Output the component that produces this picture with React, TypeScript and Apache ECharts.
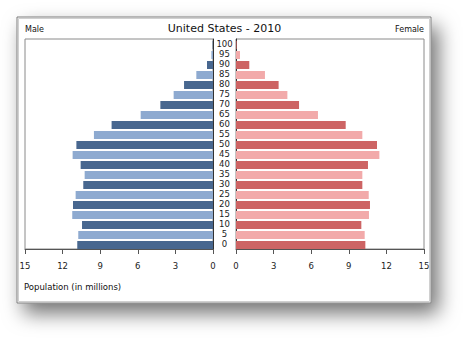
import React, { useEffect, useRef } from "react";
import * as echarts from "echarts";

const ageGroups = ["0", "5", "10", "15", "20", "25", "30", "35", "40", "45", "50", "55", "60", "65", "70", "75", "80", "85", "90", "95", "100"];
const maleValues = [10.83, 10.75, 10.45, 11.23, 11.17, 10.96, 10.35, 10.24, 10.56, 11.2, 10.9, 9.5, 8.09, 5.77, 4.2, 3.14, 2.31, 1.33, 0.48, 0.13, 0.03];
const femaleValues = [10.32, 10.27, 10.0, 10.61, 10.69, 10.59, 10.08, 10.08, 10.53, 11.44, 11.25, 10.08, 8.75, 6.54, 5.03, 4.1, 3.4, 2.31, 1.06, 0.32, 0.05];
const spacerValues = ageGroups.map(() => 0);
const axisTicks = [0, 3, 6, 9, 12, 15];

const FONT = "DejaVu Sans";
const maleDark = "#48678f";
const maleLight = "#8eaad0";
const femaleDark = "#cd6464";
const femaleLight = "#f2aaaa";

export default function App() {
  const ref = useRef<HTMLDivElement>(null);
  useEffect(() => {
    if (!ref.current) return;
    const chart = echarts.init(ref.current, undefined, { renderer: "svg" });
    const xMax = axisTicks[axisTicks.length - 1];
    const xAxisCommon = {
      type: "value" as const,
      min: 0,
      max: xMax,
      interval: 3,
      splitLine: { show: false },
      axisLine: { show: true, lineStyle: { color: "#555", width: 1 } },
      axisTick: { show: true, length: 5, lineStyle: { color: "#555" } },
      axisLabel: { fontFamily: FONT, fontSize: 8.5, color: "#222", margin: 12 },
    };
    const spacer = (xi: number) => ({
      type: "bar" as const,
      xAxisIndex: xi,
      yAxisIndex: xi,
      barWidth: 2,
      barGap: 0,
      silent: true,
      itemStyle: { color: "transparent" },
      data: spacerValues,
    });
    chart.setOption({
      animation: false,
      backgroundColor: "#ffffff",
      graphic: [
        {
          type: "rect",
          z: -10,
          shape: { x: 17, y: 17, width: 414, height: 286 },
          style: {
            fill: "#fff",
            stroke: "#7a7a7a",
            lineWidth: 1,
            shadowBlur: 20,
            shadowColor: "rgba(0,0,0,0.55)",
            shadowOffsetX: 7,
            shadowOffsetY: 10,
          },
        },
        {
          type: "rect",
          z: -9,
          shape: { x: 18.5, y: 18.5, width: 411, height: 283 },
          style: { fill: "none", stroke: "#d0d0d0", lineWidth: 1 },
        },
        {
          type: "text",
          x: 224.5,
          y: 28,
          style: { text: "United States - 2010", fontFamily: FONT, fontSize: 11, fill: "#111", textAlign: "center", textVerticalAlign: "middle" },
        },
        {
          type: "text",
          x: 25,
          y: 29,
          style: { text: "Male", fontFamily: FONT, fontSize: 8, fill: "#111", textAlign: "left", textVerticalAlign: "middle" },
        },
        {
          type: "text",
          x: 424,
          y: 29,
          style: { text: "Female", fontFamily: FONT, fontSize: 8, fill: "#111", textAlign: "right", textVerticalAlign: "middle" },
        },
        {
          type: "text",
          x: 24,
          y: 287,
          style: { text: "Population (in millions)", fontFamily: FONT, fontSize: 8.5, fill: "#111", textAlign: "left", textVerticalAlign: "middle" },
        },
      ],
      grid: [
        { left: 25, right: 259, top: 39, bottom: 91, show: true, borderColor: "#8a8a8a", borderWidth: 1, backgroundColor: "transparent" },
        { left: 236, right: 48, top: 39, bottom: 91, show: true, borderColor: "#8a8a8a", borderWidth: 1, backgroundColor: "transparent" },
      ],
      xAxis: [
        { ...xAxisCommon, gridIndex: 0, inverse: true },
        { ...xAxisCommon, gridIndex: 1 },
      ],
      yAxis: [
        {
          type: "category",
          gridIndex: 0,
          data: ageGroups,
          position: "right",
          axisLine: { show: true, lineStyle: { color: "#333" } },
          axisTick: { show: false },
          axisLabel: { show: true, align: "center", margin: 11.5, padding: [2, 0, 0, 0], fontFamily: FONT, fontSize: 8.5, color: "#222", interval: 0 },
        },
        {
          type: "category",
          gridIndex: 1,
          data: ageGroups,
          position: "left",
          axisLine: { show: true, lineStyle: { color: "#333" } },
          axisTick: { show: false },
          axisLabel: { show: false },
        },
      ],
      series: [
        spacer(0),
        {
          type: "bar",
          name: "Male",
          xAxisIndex: 0,
          yAxisIndex: 0,
          barWidth: 8,
          barGap: 0,
          data: maleValues.map((v, i) => ({ value: v, itemStyle: { color: i % 2 === 0 ? maleDark : maleLight } })),
        },
        spacer(1),
        {
          type: "bar",
          name: "Female",
          xAxisIndex: 1,
          yAxisIndex: 1,
          barWidth: 8,
          barGap: 0,
          data: femaleValues.map((v, i) => ({ value: v, itemStyle: { color: i % 2 === 0 ? femaleDark : femaleLight } })),
        },
      ],
    });
    return () => chart.dispose();
  }, []);
  return <div ref={ref} style={{ position: "absolute", left: 0, top: 0, width: 472, height: 340 }} />;
}
